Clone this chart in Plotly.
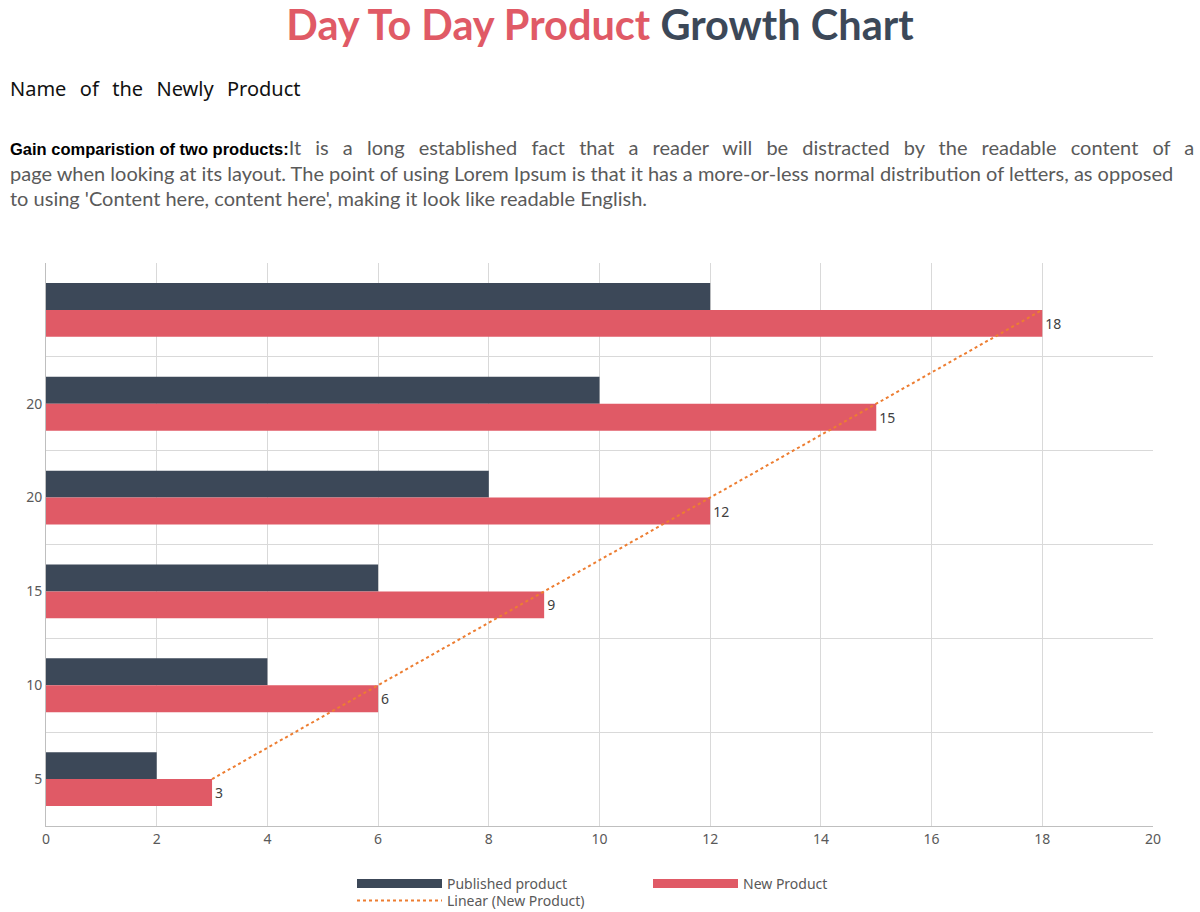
import numpy as np
import plotly.graph_objects as go

# ---- data ----
categories = ["5", "10", "15", "20", "20", ""]          # bottom -> top
published = [2, 4, 6, 8, 10, 12]
new_product = [3, 6, 9, 12, 15, 18]
x_ticks = list(range(0, 21, 2))

DARK = "#3C4858"
RED = "#E05A66"
ORANGE = "#ED7D31"

W, H = 1200, 912
ML, MR, MT, MB = 46, 47, 263, 86
PW, PH = W - ML - MR, H - MT - MB

def px_x(px):
    return (px - ML) / PW

def px_y(py):
    return (H - MB - py) / PH

idx = np.arange(len(categories))
bw = 0.287

fig = go.Figure()
fig.add_trace(go.Bar(
    y=idx, x=published, orientation="h", name="Published product",
    marker=dict(color=DARK, line=dict(width=0)), width=bw, offset=0,
    showlegend=False,
))
fig.add_trace(go.Bar(
    y=idx, x=new_product, orientation="h", name="New Product",
    marker=dict(color=RED, line=dict(width=0)), width=bw, offset=-bw,
    text=[str(v) for v in new_product], textposition="outside",
    textfont=dict(family="Noto Sans", size=14, color="#404040"),
    cliponaxis=False, showlegend=False,
))
slope, icpt = np.polyfit(idx, new_product, 1)
fig.add_trace(go.Scatter(
    x=slope * idx + icpt, y=idx, mode="lines", name="Linear (New Product)",
    line=dict(color=ORANGE, width=2, dash="dot"), legend="legend2",
))
# legend swatches (wide, like the reference) for the two bar series
for nm, col in [("Published product", DARK), ("New Product", RED)]:
    fig.add_trace(go.Scatter(
        x=[None], y=[None], mode="lines", name=nm,
        line=dict(color=col, width=9), legend="legend", hoverinfo="skip",
    ))

fig.update_layout(
    width=W, height=H, barmode="overlay",
    margin=dict(l=ML, r=MR, t=MT, b=MB, autoexpand=False),
    paper_bgcolor="white", plot_bgcolor="white",
    font=dict(family="Noto Sans", color="#595959"),
    title=dict(
        text="<b><span style='color:%s'>Day To Day Product</span> <span style='color:%s'>Growth Chart</span></b>" % (RED, DARK),
        x=0.5, xanchor="center", xref="container",
        y=1 - 25 / H, yanchor="middle", yref="container",
        font=dict(family="Lato", size=41.5),
    ),
    xaxis=dict(
        range=[0, 20], tickvals=x_ticks, ticktext=[str(t) for t in x_ticks],
        showgrid=True, gridcolor="#D9D9D9", gridwidth=1,
        showline=True, linecolor="#BFBFBF", linewidth=1,
        zeroline=False, ticks="",
        tickfont=dict(family="Noto Sans", size=14, color="#595959"),
    ),
    yaxis=dict(
        range=[-0.5, len(categories) - 0.5],
        tickvals=list(idx), ticktext=categories,
        showgrid=False, zeroline=False,
        showline=True, linecolor="#BFBFBF", linewidth=1, ticks="",
        tickfont=dict(family="Noto Sans", size=14, color="#595959"),
        minor=dict(tickvals=[i - 0.5 for i in range(len(categories) + 1)],
                   showgrid=True, gridcolor="#D9D9D9", gridwidth=1, ticks=""),
    ),
    legend=dict(
        orientation="h", x=px_x(352), xanchor="left", y=px_y(868), yanchor="top",
        font=dict(family="Noto Sans", size=14, color="#595959"),
        entrywidth=196, entrywidthmode="pixels", itemwidth=85,
        bgcolor="rgba(0,0,0,0)", tracegroupgap=0,
    ),
    legend2=dict(
        orientation="h", x=px_x(352), xanchor="left", y=px_y(885), yanchor="top",
        font=dict(family="Noto Sans", size=14, color="#595959"),
        itemwidth=85, bgcolor="rgba(0,0,0,0)",
    ),
    showlegend=True,
)

fig.add_annotation(
    xref="paper", yref="paper", x=px_x(8), y=px_y(88),
    xanchor="left", yanchor="middle", showarrow=False,
    text="<span style='word-spacing:1.5px'>Name&nbsp; of&nbsp; the&nbsp; Newly&nbsp; Product</span>",
    font=dict(family="Noto Sans", size=20, color="#111111"),
)

para_lines = [
    ("<span style='font-family:Liberation Sans;font-size:16.5px;color:#000000'>"
     "<b>Gain comparistion of two products:</b></span>"
     "<span style='word-spacing:9px'>It is a long established fact that a reader will be distracted by the readable content of a</span>", 147),
    ("page when looking at its layout. The point of using Lorem Ipsum is that it has a more-or-less normal distribution of letters, as opposed", 173),
    ("to using 'Content here, content here', making it look like readable English.", 198),
]
for txt, ypx in para_lines:
    fig.add_annotation(
        xref="paper", yref="paper", x=px_x(8), y=px_y(ypx),
        xanchor="left", yanchor="middle", align="left", showarrow=False,
        text=txt,
        font=dict(family="Lato", size=20, color="#5A5A5A"),
    )

fig.write_html("out.html")
